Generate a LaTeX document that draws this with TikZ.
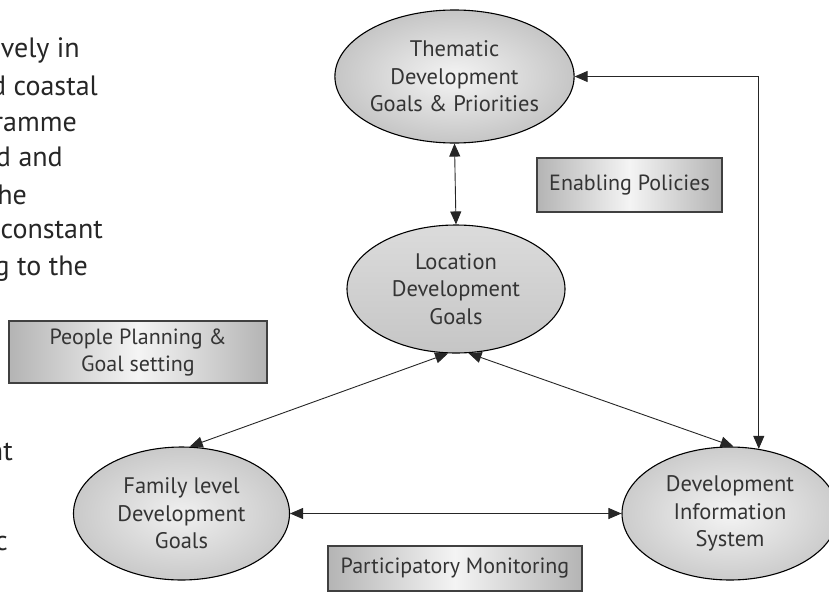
\documentclass[tikz,border=0pt]{standalone}
\usepackage{fontspec}
\setmainfont{PT Sans}
\usetikzlibrary{arrows.meta,positioning,shapes.geometric}
\definecolor{dgInk}{HTML}{343434}
\definecolor{dgShade}{HTML}{B4B4B4}
\definecolor{dgLight}{HTML}{F4F4F4}

\begin{document}
\begin{tikzpicture}[x=1pt,y=-1pt,
    goal/.style={ellipse,draw=black,line width=1.1pt,text=dgInk,align=center,
                 inner sep=0pt,minimum width=216pt,minimum height=133pt,
                 font=\fontsize{22.5}{27.5}\selectfont},
    tag/.style={rectangle,draw=black!75,line width=1.3pt,text=dgInk,align=center,
                left color=dgShade,right color=dgShade,middle color=dgLight,
                inner sep=0pt,font=\fontsize{22}{27}\selectfont},
    link/.style={{Triangle[length=13pt,width=11pt]}-{Triangle[length=13pt,width=11pt]},
                 line width=0.9pt,draw=black!85},
    frag/.style={anchor=base east,inner sep=0pt,text=black!85,
                 font=\fontsize{28}{36}\selectfont}]
  \useasboundingbox (0,0) rectangle (829,592);
  \clip (0,0) rectangle (829,592);

  % text of the page, cut at the left edge
  \node[frag] (f1) at (80,57)  {vely in};
  \node[frag] (f2) at (98,95)  {d coastal};
  \node[frag] (f3) at (77,131) {ramme};
  \node[frag] (f4) at (63,166) {d and};
  \node[frag] (f5) at (27,204) {he};
  \node[frag] (f6) at (103,238) {constant};
  \node[frag] (f7) at (88,275) {g to the};
  \node[frag] (f8) at (13,460) {nt};
  \node[frag] (f9) at (8,550)  {c};

  % goals
  \node[goal,inner color=dgLight,outer color=gray!45] (thm) at (454.5,76.5)
       {Thematic\\Development\\Goals \& Priorities};
  \node[goal,top color=gray!28,bottom color=gray!45,minimum width=218pt,
        minimum height=128pt] (loc) at (456,289)
       {Location\\Development\\Goals};
  \node[goal,inner color=gray!12,outer color=gray!42] (fam) at (181.5,513.5)
       {Family level\\Development\\Goals};
  \node[goal,inner color=dgLight,outer color=gray!40] (dis) at (730,513.5)
       {Development\\Information\\System};

  % labels in boxes
  \node[tag,minimum width=185pt,minimum height=54pt] (pol) at (629.5,185)
       {Enabling Policies};
  \node[tag,minimum width=258pt,minimum height=62pt] (ppl) at (138,352)
       {People Planning \&\\Goal setting};
  \node[tag,minimum width=254pt,minimum height=45pt] (mon) at (455,568.5)
       {Participatory Monitoring};

  \draw[link] (thm.south) -- (loc.north);
  \draw[link] (thm.east) -| (dis.66);
  \draw[link] (loc.263) -- (fam.83);
  \draw[link] (loc.281) -- (dis.87);
  \draw[link] (fam.east) -- (dis.west);
\end{tikzpicture}
\end{document}
